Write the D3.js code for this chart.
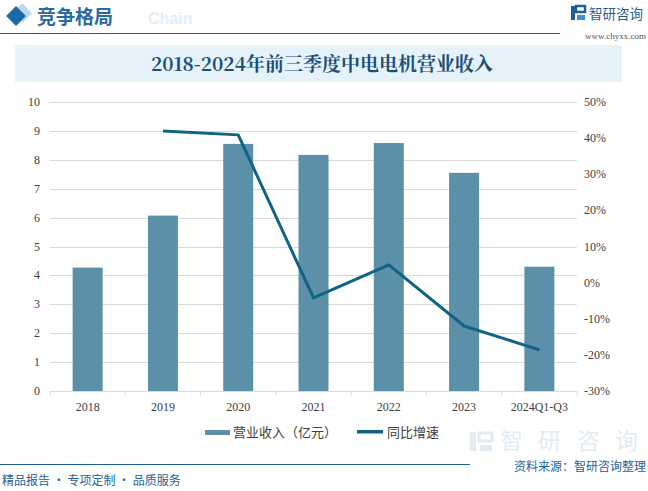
<!DOCTYPE html>
<html><head><meta charset="utf-8">
<script src="https://cdn.jsdelivr.net/npm/d3@7/dist/d3.min.js"></script>
<style>body{margin:0;background:#fff;}svg{display:block;}</style>
</head><body>
<svg id="c" width="648" height="491"></svg>
<script>
const categories = ["2018","2019","2020","2021","2022","2023","2024Q1-Q3"];
const revenue = [4.27, 6.07, 8.55, 8.17, 8.58, 7.55, 4.30];
const growth = [null, 42.0, 40.9, -4.2, 4.9, -12.0, -18.6];
const leftTicks = [0,1,2,3,4,5,6,7,8,9,10];
const rightTicks = [-30,-20,-10,0,10,20,30,40,50];

const svg = d3.select("#c");
const m = {l:50, r:577, t:102, b:391};
const barColor = "#5b90a8", lineColor = "#0f6384", blue = "#1f5f99";

// header
svg.append("rect").attr("x",14).attr("y",9).attr("width",14).attr("height",14).attr("fill","#bcd6ea").attr("transform","rotate(45 25 16)");
svg.append("rect").attr("x",9).attr("y",9).attr("width",14).attr("height",14).attr("fill","#1a6aa6").attr("transform","rotate(45 16 16)");
svg.append("text").attr("x",148).attr("y",24).attr("fill","#e3eef7").attr("font-family","Liberation Sans").attr("font-weight","bold").attr("font-size",16).text("Chain");
svg.append("text").attr("x",37).attr("y",24).attr("fill","#2a6aa3").attr("font-family","Noto Sans CJK SC").attr("font-size",19).attr("font-weight","bold").text("竞争格局");
svg.append("line").attr("x1",0).attr("x2",560).attr("y1",33.5).attr("y2",33.5).attr("stroke",blue).attr("stroke-width",1.2);
// logo
const lg = svg.append("g");
lg.append("rect").attr("x",571).attr("y",6).attr("width",4).attr("height",14).attr("fill","#1f5f99");
lg.append("rect").attr("x",576).attr("y",6).attr("width",9).attr("height",6).attr("fill","none").attr("stroke","#1f5f99").attr("stroke-width",2.5);
lg.append("rect").attr("x",577).attr("y",15).attr("width",8).attr("height",5).attr("fill","#3a8fd0");
lg.append("text").attr("x",589).attr("y",19).attr("fill","#1f5f99").attr("font-family","Noto Sans CJK SC").attr("font-size",13.5).text("智研咨询");
lg.append("text").attr("x",646).attr("y",39).attr("text-anchor","end").attr("fill","#555").attr("font-family","Liberation Serif").attr("font-size",9).text("www.chyxx.com");

// title banner
svg.append("rect").attr("x",15).attr("y",45).attr("width",607).attr("height",37).attr("fill","#e5f2fa");
svg.append("text").attr("x",322).attr("y",71).attr("text-anchor","middle").attr("fill","#1d4f7a").attr("font-family","Noto Serif CJK SC, Noto Sans CJK SC").attr("font-size",19).attr("font-weight","bold").text("2018-2024年前三季度中电电机营业收入");

// scales
const xb = d3.scaleBand().domain(categories).range([m.l,m.r]);
const yL = d3.scaleLinear().domain([0,10]).range([m.b,m.t]);
const yR = d3.scaleLinear().domain([-30,50]).range([m.b,m.t]);

// grid
svg.append("g").selectAll("line").data(leftTicks.filter(d=>d>0)).join("line")
  .attr("x1",m.l).attr("x2",m.r).attr("y1",d=>Math.round(yL(d))+0.5).attr("y2",d=>Math.round(yL(d))+0.5)
  .attr("stroke","#d9d9d9").attr("stroke-width",1);

// bars
svg.append("g").selectAll("rect").data(revenue).join("rect")
  .attr("x",(d,i)=>xb(categories[i])+xb.bandwidth()/2-15).attr("width",30)
  .attr("y",d=>yL(d)).attr("height",d=>yL(0)-yL(d)).attr("fill",barColor);

// x axis
const xa = svg.append("g").attr("transform",`translate(0,${Math.round(m.b)+0.5})`);
xa.append("line").attr("x1",m.l).attr("x2",m.r).attr("stroke","#d9d9d9");
xa.selectAll("line.t").data(d3.range(categories.length+1)).join("line").attr("class","t")
  .attr("x1",i=>m.l+i*xb.step()).attr("x2",i=>m.l+i*xb.step()).attr("y1",0).attr("y2",4).attr("stroke","#d9d9d9");
xa.selectAll("text").data(categories).join("text")
  .attr("x",d=>xb(d)+xb.bandwidth()/2).attr("y",19).attr("text-anchor","middle")
  .attr("fill","#404040").attr("font-family","Liberation Serif").attr("font-size",12).text(d=>d);

// left axis labels
svg.append("g").selectAll("text").data(leftTicks).join("text")
  .attr("x",40).attr("y",d=>yL(d)+4).attr("text-anchor","end")
  .attr("fill","#404040").attr("font-family","Liberation Serif").attr("font-size",12).text(d=>d);
// right axis labels
svg.append("g").selectAll("text").data(rightTicks).join("text")
  .attr("x",584).attr("y",d=>yR(d)+4).attr("text-anchor","start")
  .attr("fill","#404040").attr("font-family","Liberation Serif").attr("font-size",12).text(d=>d+"%");

// line
const pts = growth.map((g,i)=>({g,c:categories[i]})).filter(d=>d.g!==null);
svg.append("path").datum(pts)
  .attr("d",d3.line().x(d=>xb(d.c)+xb.bandwidth()/2).y(d=>yR(d.g)))
  .attr("fill","none").attr("stroke",lineColor).attr("stroke-width",3).attr("stroke-linejoin","round");

// legend
const leg = svg.append("g").attr("font-family","Noto Sans CJK SC").attr("font-size",13).attr("fill","#404040");
leg.append("rect").attr("x",205).attr("y",430).attr("width",25).attr("height",5).attr("fill",barColor);
leg.append("text").attr("x",233).attr("y",437).text("营业收入（亿元）");
leg.append("rect").attr("x",357).attr("y",430).attr("width",26).attr("height",3.5).attr("fill",lineColor);
leg.append("text").attr("x",387).attr("y",437).text("同比增速");

// footer faint logo
const fl = svg.append("g").attr("opacity",0.12);
fl.append("rect").attr("x",470).attr("y",432).attr("width",6).attr("height",19).attr("fill","#1f5f99");
fl.append("rect").attr("x",479).attr("y",433).attr("width",13).attr("height",8).attr("fill","none").attr("stroke","#1f5f99").attr("stroke-width",3);
fl.append("rect").attr("x",480).attr("y",445).attr("width",12).attr("height",6).attr("fill","#1f5f99");
fl.append("text").attr("x",500).attr("y",449).attr("fill","#1f5f99").attr("font-family","Noto Sans CJK SC").attr("font-size",23).attr("textLength",138).text("智研咨询");
svg.append("line").attr("x1",0).attr("x2",470).attr("y1",464.5).attr("y2",464.5).attr("stroke",blue).attr("stroke-width",1.2);
svg.append("text").attr("x",646).attr("y",471).attr("text-anchor","end").attr("fill","#1f5f99").attr("font-family","Noto Sans CJK SC").attr("font-size",12).text("资料来源：智研咨询整理");
svg.append("text").attr("x",2).attr("y",485).attr("fill","#1f5f99").attr("font-family","Noto Sans CJK SC").attr("font-size",12).text("精品报告 · 专项定制 · 品质服务");
</script>
</body></html>
